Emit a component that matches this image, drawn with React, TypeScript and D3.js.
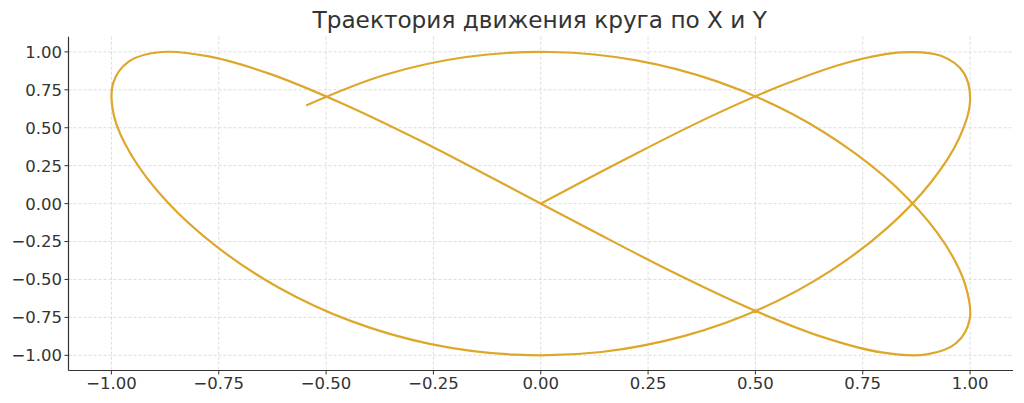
import React from "react";
import * as d3 from "d3";

const xValues = [
  0, 0.199, 0.389, 0.565, 0.717, 0.841, 0.932, 0.985, 1.0, 0.974, 0.909,
  0.808, 0.675, 0.516, 0.335, 0.141, -0.058, -0.256, -0.443, -0.612, -0.757,
  -0.872, -0.952, -0.994, -0.996, -0.959, -0.883, -0.773, -0.631, -0.465, -0.279,
  -0.083, 0.117, 0.312, 0.494, 0.657, 0.794, 0.899, 0.968, 0.999, 0.989,
  0.941, 0.855, 0.734, 0.585, 0.412, 0.223, 0.025, -0.174, -0.366, -0.544,
];
const yValues = [
  0, 0.296, 0.565, 0.783, 0.932, 0.997, 0.974, 0.863, 0.675, 0.427, 0.141,
  -0.158, -0.443, -0.688, -0.872, -0.978, -0.996, -0.926, -0.773, -0.551, -0.279,
  0.017, 0.312, 0.578, 0.794, 0.938, 0.999, 0.97, 0.855, 0.663, 0.412,
  0.124, -0.174, -0.458, -0.7, -0.88, -0.981, -0.994, -0.919, -0.764, -0.537,
  -0.263, 0.034, 0.327, 0.592, 0.804, 0.944, 0.999, 0.966, 0.846, 0.65,
];
const xTicks = [-1.0, -0.75, -0.5, -0.25, 0.0, 0.25, 0.5, 0.75, 1.0];
const yTicks = [-1.0, -0.75, -0.5, -0.25, 0.0, 0.25, 0.5, 0.75, 1.0];
const title = "Траектория движения круга по X и Y";

const W = 1024;
const H = 403;
const left = 68.5;
const right = 1013;
const top = 36.7;
const bottom = 370.5;

export default function App() {
  const x = d3.scaleLinear().domain([-1.1, 1.1]).range([left, right]);
  const y = d3.scaleLinear().domain([-1.1, 1.1]).range([bottom, top]);
  const pts: [number, number][] = xValues.map((v, i) => [v, yValues[i]]);
  const line = d3
    .line<[number, number]>()
    .x((d) => x(d[0]))
    .y((d) => y(d[1]))
    .curve(d3.curveCatmullRom.alpha(0.5));
  const font = "DejaVu Sans, sans-serif";
  const txt = "#333333";
  return (
    <svg
      width={W}
      height={H}
      style={{ position: "absolute", left: 0, top: 0, background: "#fff" }}
      fontFamily={font}
    >
      <rect x={0} y={0} width={W} height={H} fill="#fff" />
      {xTicks.map((t) => (
        <line
          key={"gx" + t}
          x1={x(t)}
          x2={x(t)}
          y1={top}
          y2={bottom}
          stroke="#d4d4d4"
          strokeWidth={0.8}
          strokeDasharray="3,2"
        />
      ))}
      {yTicks.map((t) => (
        <line
          key={"gy" + t}
          x1={left}
          x2={right}
          y1={y(t)}
          y2={y(t)}
          stroke="#d4d4d4"
          strokeWidth={0.8}
          strokeDasharray="3,2"
        />
      ))}
      <path
        d={line(pts) || ""}
        fill="none"
        stroke="#DDA72A"
        strokeWidth={2.2}
        strokeLinejoin="round"
        strokeLinecap="square"
      />
      <line x1={left} x2={left} y1={top} y2={bottom} stroke="#333" strokeWidth={1.2} />
      <line x1={left} x2={right} y1={bottom} y2={bottom} stroke="#333" strokeWidth={1.2} />
      {xTicks.map((t) => (
        <g key={"tx" + t}>
          <line x1={x(t)} x2={x(t)} y1={bottom} y2={bottom + 4} stroke="#333" strokeWidth={1} />
          <text
            x={x(t)}
            y={bottom + 18.8}
            textAnchor="middle"
            fontSize={16.5}
            fill={txt}
          >
            {d3.format(".2f")(t).replace("-", "\u2212")}
          </text>
        </g>
      ))}
      {yTicks.map((t) => (
        <g key={"ty" + t}>
          <line x1={left - 4} x2={left} y1={y(t)} y2={y(t)} stroke="#333" strokeWidth={1} />
          <text
            x={left - 6.5}
            y={y(t)}
            dy="0.36em"
            textAnchor="end"
            fontSize={16.5}
            fill={txt}
          >
            {d3.format(".2f")(t).replace("-", "\u2212")}
          </text>
        </g>
      ))}
      <text x={(left + right) / 2 - 1} y={28} textAnchor="middle" fontSize={23.2} fill={txt}>
        {title}
      </text>
    </svg>
  );
}
